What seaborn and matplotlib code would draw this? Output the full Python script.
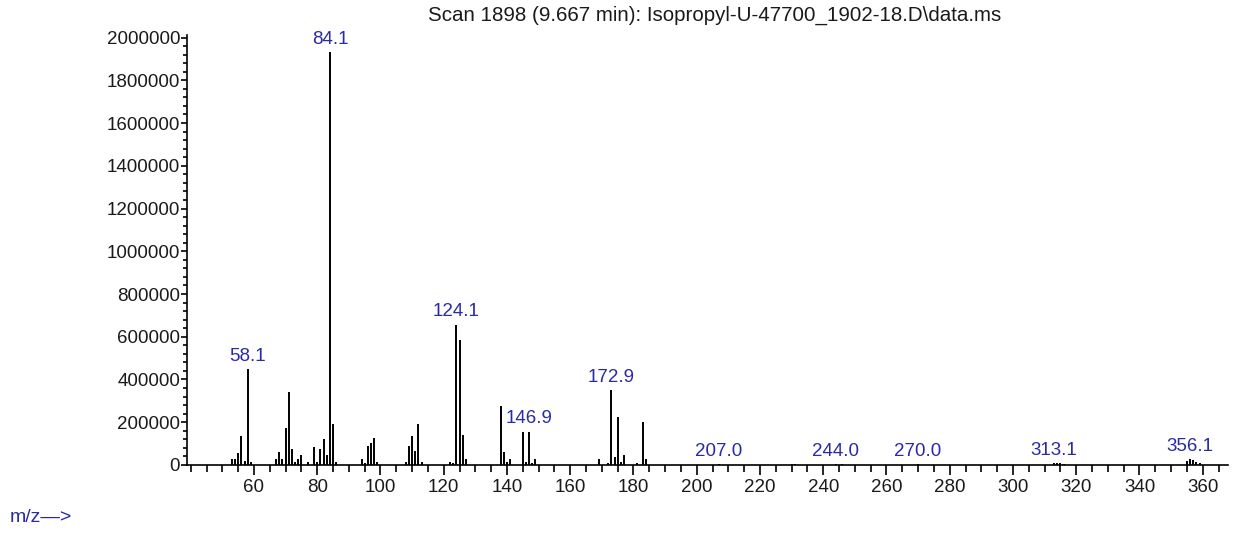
import numpy as np
import pandas as pd
import matplotlib
matplotlib.use("Agg")
import matplotlib.pyplot as plt
import seaborn as sns
from matplotlib.ticker import MultipleLocator

# peak list (m/z, abundance)
mz = [53, 54, 55, 56, 57, 58, 59,
      67, 68, 69, 70, 71, 72, 73, 74, 75, 77, 79, 80, 81, 82, 83, 84, 85, 86,
      94, 95, 96, 97, 98, 99,
      108, 109, 110, 111, 112, 113,
      122, 123, 124, 125, 126, 127,
      138, 139, 140, 141, 145, 146, 147, 148, 149,
      169, 172, 173, 174, 175, 176, 177, 181, 183, 184,
      207, 230, 231, 244, 246, 270,
      313, 314, 315, 316,
      355, 356, 357, 358, 359]
abundance = [28000, 28000, 57000, 134000, 20000, 447000, 16000,
             29000, 59000, 29000, 171000, 342000, 73000, 16000, 29000, 45000, 16000, 83000, 16000, 75000, 120000, 45000, 1930000, 193000, 16000,
             28000, 8000, 89000, 104000, 126000, 16000,
             16000, 89000, 134000, 67000, 193000, 16000,
             16000, 8000, 657000, 583000, 142000, 29000,
             276000, 59000, 16000, 29000, 156000, 16000, 156000, 8000, 29000,
             29000, 8000, 350000, 37000, 224000, 16000, 45000, 8000, 201000, 29000,
             4000, 4000, 4000, 5000, 4000, 4000,
             7000, 8000, 7000, 5000,
             20000, 28000, 25000, 16000, 10000]

label_mz = [58, 84, 124, 147, 173, 207, 244, 270, 313, 356]
label_text = ["58.1", "84.1", "124.1", "146.9", "172.9", "207.0", "244.0", "270.0", "313.1", "356.1"]

title = "Scan 1898 (9.667 min): Isopropyl-U-47700_1902-18.D\\data.ms"

df = pd.DataFrame({"mz": mz, "abundance": abundance})

sns.set_style("ticks")
plt.rcParams["font.family"] = ["Liberation Sans", "DejaVu Sans"]

fig = plt.figure(figsize=(12.48, 5.33), dpi=100)
ax = fig.add_axes([0.1498, 0.1276, 0.8342, 0.806])

ax.vlines(df["mz"], 0, df["abundance"], color="black", linewidth=1.4)

blue = "#2a2aa8"
for m, t in zip(label_mz, label_text):
    h = df.loc[df["mz"] == m, "abundance"].iloc[0]
    ax.annotate(t, (m, h), xytext=(0, 3), textcoords="offset points",
                ha="center", va="bottom", color=blue, fontsize=13.5)

ax.set_xlim(38.8, 368)
ax.set_ylim(0, 2010000)
ax.xaxis.set_major_locator(MultipleLocator(20))
ax.xaxis.set_minor_locator(MultipleLocator(5))
ax.yaxis.set_major_locator(MultipleLocator(200000))
ax.yaxis.set_minor_locator(MultipleLocator(40000))
ax.yaxis.set_major_formatter(matplotlib.ticker.FuncFormatter(lambda v, p: f"{int(v)}"))
ax.set_xticks([t for t in range(60, 361, 20)])

ax.tick_params(axis="x", which="major", length=7, width=1.2, pad=3, labelsize=13.5, color="black", labelcolor="#1a1a1a")
ax.tick_params(axis="x", which="minor", length=5, width=1.2, color="black")
ax.tick_params(axis="y", which="major", length=4, width=1.2, pad=1, labelsize=13.5, color="black", labelcolor="#1a1a1a")
ax.tick_params(axis="y", which="minor", length=3, width=1.2, color="black")

sns.despine(ax=ax)
for s in ["left", "bottom"]:
    ax.spines[s].set_linewidth(1.2)
    ax.spines[s].set_color("black")

fig.text(0.573, 0.972, title, ha="center", va="center", fontsize=14.8, color="#1a1a1a")
fig.text(0.008, 1 - 518 / 533, "m/z\u2014>", ha="left", va="center", color=blue, fontsize=14)

fig.savefig("out.png", dpi=100)
